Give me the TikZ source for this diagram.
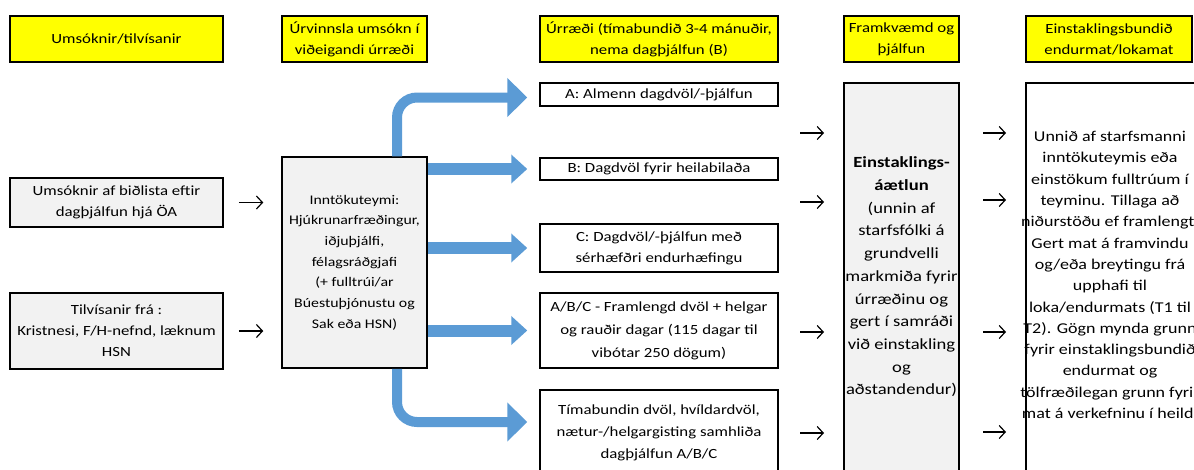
\documentclass[tikz,border=0pt]{standalone}
\usepackage{fontspec}
\setmainfont{Carlito}[FakeStretch=1.2]
\usetikzlibrary{arrows.meta}
\definecolor{hdryellow}{RGB}{255,255,0}
\definecolor{boxgray}{RGB}{242,242,242}
\definecolor{flowblue}{RGB}{91,155,213}

\begin{document}
\begin{tikzpicture}[x=1pt,y=-1pt,
  txt/.style={align=center,inner sep=0pt,font=\fontsize{14}{21}\selectfont},
  hdr/.style={txt,draw,line width=1.5pt,fill=hdryellow,minimum height=46pt},
  box/.style={txt,draw,line width=1.5pt,fill=white},
  graybox/.style={box,fill=boxgray},
  thinarr/.style={line width=1.2pt,-{Straight Barb[length=6pt,width=13pt]}},
  bluestraight/.style={flowblue,line width=12pt,-{Triangle[width=28pt,length=16pt]}},
  bluebent/.style={flowblue,line width=10pt,rounded corners=20pt,-{Triangle[width=38pt,length=20pt]}}]
\useasboundingbox (0,0) rectangle (1194,469);
\clip (0,0) rectangle (1194,469);

% headers
\node[hdr,minimum width=213pt] (h1) at (116.5,39) {Umsóknir/tilvísanir};
\node[hdr,minimum width=145pt] (h2) at (354.5,39) {Úrvinnsla umsókn í\\viðeigandi úrræði};
\node[hdr,minimum width=238pt] (h3) at (659,39) {Úrræði (tímabundið 3-4 mánuðir,\\nema dagþjálfun (B)};
\node[hdr,minimum width=115pt] (h4) at (901.5,39) {Framkvæmd og\\þjálfun};
\node[hdr,minimum width=166pt] (h5) at (1109,39) {Einstaklingsbundið\\endurmat/lokamat};

% applications
\node[graybox,minimum width=213pt,minimum height=49pt] (in1) at (116.5,202.5) {Umsóknir af biðlista eftir\\dagþjálfun hjá ÖA};
\node[graybox,minimum width=213pt,minimum height=76pt] (in2) at (116.5,331) {Tilvísanir frá :\\Kristnesi, F/H-nefnd, læknum\\HSN};
\node[graybox,minimum width=145pt,minimum height=211pt,font=\fontsize{13.2}{20.7}\selectfont] (team) at (354.5,262.5)
  {Inntökuteymi:\\Hjúkrunarfræðingur,\\iðjuþjálfi,\\félagsráðgjafi\\(+ fulltrúi/ar\\Búestuþjónustu og\\Sak eða HSN)};

% services
\node[box,minimum width=238pt,minimum height=23pt] (bA) at (659,94.5) {A: Almenn dagdvöl/-þjálfun};
\node[box,minimum width=238pt,minimum height=22pt] (bB) at (659,169) {B: Dagdvöl fyrir heilabilaða};
\node[box,minimum width=238pt,minimum height=48pt] (bC) at (659,248) {C: Dagdvöl/-þjálfun með\\sérhæfðri endurhæfingu};
\node[box,minimum width=238pt,minimum height=75pt,font=\fontsize{14}{23}\selectfont] (bD) at (659,330.5) {A/B/C - Framlengd dvöl + helgar\\og rauðir dagar (115 dagar til\\vibótar 250 dögum)};
\node[box,minimum width=238pt,minimum height=86pt,font=\fontsize{14}{22}\selectfont] (bE) at (659,433) {Tímabundin dvöl, hvíldardvöl,\\nætur-/helgargisting samhliða\\dagþjálfun A/B/C};

% plan and evaluation
\node[graybox,minimum width=115pt,minimum height=388pt,font=\fontsize{15.5}{22.7}\selectfont] (plan) at (901.5,277)
  {\textbf{Einstaklings-}\\\textbf{áætlun}\\(unnin af\\starfsfólki á\\grundvelli\\markmiða fyrir\\úrræðinu og\\gert í samráði\\við einstakling\\og\\aðstandendur)};
\draw[line width=1.5pt] (1026,480) |- (1210,83);
\node[txt,font=\fontsize{15}{21.3}\selectfont] (eval) at (1110,275)
  {Unnið af starfsmanni\\inntökuteymis eða\\einstökum fulltrúum í\\teyminu. Tillaga að\\niðurstöðu ef framlengt.\\Gert mat á framvindu\\og/eða breytingu frá\\upphafi til\\loka/endurmats (T1 til\\T2). Gögn mynda grunn\\fyrir einstaklingsbundið\\endurmat og\\tölfræðilegan grunn fyrir\\mat á verkefninu í heild.};

% blue arrows
\draw[bluebent] ([xshift=42.5pt]team.north) |- ([xshift=-12pt,yshift=-3pt]bA.west);
\draw[bluestraight] (team.east |- bB.west) -- ([xshift=-12pt]bB.west);
\draw[bluestraight] (team.east |- bC.west) -- ([xshift=-12pt]bC.west);
\draw[bluestraight] (team.east |- bD.west) -- ([xshift=-12pt]bD.west);
\draw[bluebent] ([xshift=42.5pt]team.south) |- ([xshift=-12pt,yshift=11pt]bE.west);

% thin arrows
\draw[thinarr] ([xshift=15pt]in1.east) -- ([xshift=-18pt]team.west |- in1.east);
\draw[thinarr] ([xshift=15pt]in2.east) -- ([xshift=-18pt]team.west |- in2.east);
\foreach \ya/\yb [count=\i] in {133/133,202/200,332/332,433/432} {
  \coordinate (p\i) at (800,\ya);
  \coordinate (q\i) at (983,\yb);
  \draw[thinarr] (p\i) -- ++(24,0);
  \draw[thinarr] (q\i) -- ++(23,0);
}
\end{tikzpicture}
\end{document}
